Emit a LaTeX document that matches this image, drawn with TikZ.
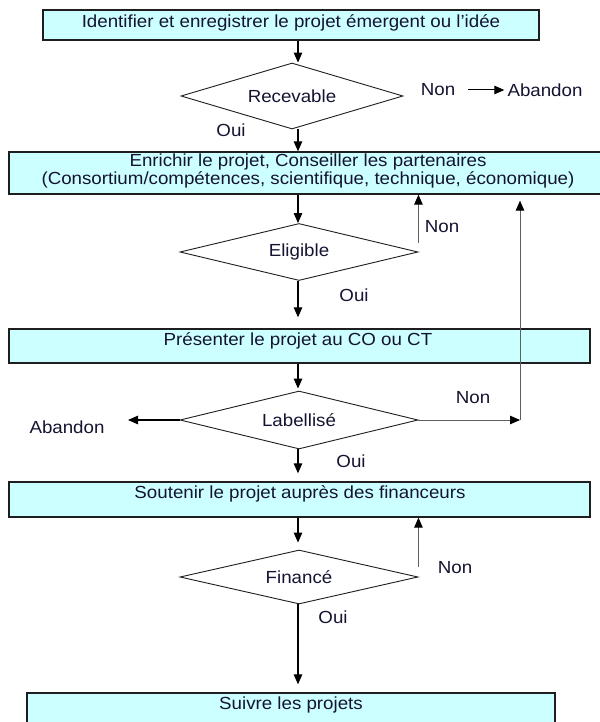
\documentclass[tikz,border=0pt]{standalone}
\usepackage{fontspec}
\setmainfont{Liberation Sans}[FakeStretch=1.07]
\usetikzlibrary{arrows.meta,shapes.geometric}
\definecolor{boxfill}{RGB}{204,255,255}
\definecolor{ink}{RGB}{20,20,50}
\definecolor{edge}{RGB}{30,30,30}
\definecolor{grayline}{RGB}{95,95,95}
\begin{document}
\begin{tikzpicture}[x=1pt,y=-1pt,
  txt/.style={font=\fontsize{17.5}{15}\selectfont, text=ink, inner sep=0pt},
  procbox/.style={draw=edge, line width=1.3pt, fill=boxfill, inner sep=0pt},
  decision/.style={diamond, draw=edge, line width=0.9pt, aspect=4, inner sep=0pt,
    font=\fontsize{17.5}{15}\selectfont, text=ink},
  arr/.style={-{Triangle[length=10pt,width=8.5pt]}, line width=1.2pt, draw=black},
  garr/.style={-{Triangle[length=10pt,width=8.5pt,color=black]}, line width=1pt, draw=grayline},
]
\useasboundingbox (0,0) rectangle (599,722);
\fill[white] (0,0) rectangle (599,722);

% process boxes
\node[procbox, minimum width=496pt, minimum height=30pt] (b1) at (291,25) {};
\node[procbox, minimum width=598pt, minimum height=42pt] (b2) at (308,173) {};
\node[procbox, minimum width=581pt, minimum height=34pt] (b3) at (299.5,346) {};
\node[procbox, minimum width=581pt, minimum height=35pt] (b4) at (299.5,499.5) {};
\node[procbox, minimum width=528pt, minimum height=42pt] (b5) at (291,714) {};

\node[txt] (t1) at (291,23) {Identifier et enregistrer le projet émergent ou l’idée};
\node[txt, align=center] (t2) at (308,171) {Enrichir le projet, Conseiller les partenaires\\(Consortium/compétences, scientifique, technique, économique)};
\node[txt] (t3) at (298,341) {Présenter le projet au CO ou CT};
\node[txt] (t4) at (300,494) {Soutenir le projet auprès des financeurs};
\node[txt] (t5) at (291,705) {Suivre les projets};

% decisions
\node[decision, minimum width=222pt, minimum height=66pt] (rec) at (292,96) {Recevable};
\node[decision, minimum width=238pt, minimum height=57pt] (eli) at (299,252) {Eligible};
\node[decision, minimum width=238pt, minimum height=58pt] (lab) at (299,420) {Labellisé};
\node[decision, minimum width=238pt, minimum height=54pt] (fin) at (299,577) {Financé};

\coordinate (ax) at (298,0);

% main flow
\draw[arr] (b1.south -| ax) -- (rec.north -| ax);
\draw[arr] (rec.south -| ax) -- (b2.north -| ax);
\draw[arr] (b2.south -| ax) -- (eli.north -| ax);
\draw[arr, shorten >=11pt] (eli.south -| ax) -- (b3.north -| ax);
\draw[arr, shorten >=2pt] (b3.south -| ax) -- (lab.north -| ax);
\draw[arr, shorten >=8pt] (lab.south -| ax) -- (b4.north -| ax);
\draw[arr, shorten >=7pt] (b4.south -| ax) -- (fin.north -| ax);
\draw[arr, shorten >=8pt] (fin.south -| ax) -- (b5.north -| ax);

% Recevable
\node[txt] (roui) at (231,130) {Oui};
\node[txt] (rnon) at (438,90) {Non};
\node[txt] (rab) at (545,90) {Abandon};
\draw[arr, line width=1pt, shorten >=3pt] ([xshift=13pt]rnon.east) -- (rab.west);

% Eligible
\draw[garr] ([yshift=9pt]eli.east) -- (eli.east |- b2.south);
\node[txt] (enon) at (442,227) {Non};
\node[txt] (eoui) at (354,295) {Oui};

% Labellise
\coordinate (fb) at (520,420);
\coordinate (labab) at (128,420);
\draw[garr] (lab.east) -- (fb);
\draw[garr, shorten >=6pt] (fb) -- (fb |- b2.south);
\draw[arr] (lab.west) -- (labab);
\node[txt] (lnon) at (473,398) {Non};
\node[txt] (lab1) at (67,427) {Abandon};
\node[txt] (loui) at (351,461) {Oui};

% Finance
\draw[garr] ([yshift=10pt]fin.east) -- (fin.east |- b4.south);
\node[txt] (fnon) at (455,568) {Non};
\node[txt] (foui) at (333,617) {Oui};
\end{tikzpicture}
\end{document}
